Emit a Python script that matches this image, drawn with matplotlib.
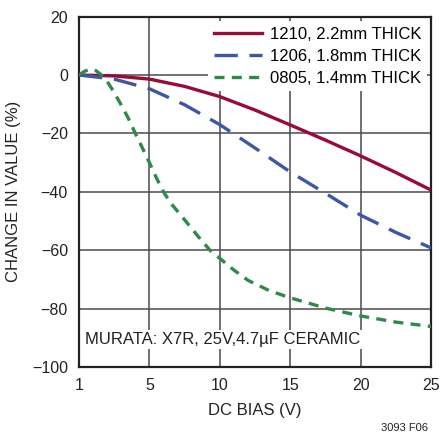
import matplotlib
matplotlib.use("Agg")
import matplotlib.pyplot as plt

plt.rcParams['font.family'] = ['Liberation Sans Narrow', 'Liberation Sans', 'DejaVu Sans']
plt.rcParams['axes.unicode_minus'] = True

# x positions on the axis (the axis labels start at "1")
x_ticks = [0, 5, 10, 15, 20, 25]
x_tick_labels = ['1', '5', '10', '15', '20', '25']
y_ticks = [20, 0, -20, -40, -60, -80, -100]

# 1210, 2.2mm
x_1210 = [0, 2.5, 5, 7.5, 10, 12.5, 15, 17.5, 20, 22.5, 25]
y_1210 = [0, -0.3, -1.4, -3.9, -7.4, -12.0, -17.1, -22.3, -27.7, -33.4, -39.4]

# 1206, 1.8mm
x_1206 = [0, 2.5, 5, 7.5, 10, 12.5, 15, 17.5, 20, 22.5, 25]
y_1206 = [0, -1.4, -4.7, -10.2, -17.0, -25.0, -33.2, -40.5, -48.0, -53.9, -59.2]

# 0805, 1.4mm
x_0805 = [0, 0.4, 0.8, 1.2, 1.6, 2.0, 2.5, 3.0, 3.5, 4.0, 4.5, 5.0, 5.5, 6.0, 6.5,
          7.4, 8.5, 9.3, 10, 11, 12, 13.5, 15, 17.5, 20, 22.5, 25]
y_0805 = [0, 1.3, 2.0, 1.5, 0.0, -2.2, -6.0, -10.3, -14.8, -20.0, -25.0, -30.0, -35.3,
          -40.0, -43.8, -49.0, -55.5, -60.0, -62.8, -66.8, -70.3, -73.8, -76.3, -79.8,
          -82.5, -84.6, -86.1]

fig = plt.figure(figsize=(4.44, 4.37), dpi=100)
ax = fig.add_axes([0.178, 0.160, 0.793, 0.802])

ax.plot(x_1210, y_1210, color='#9b0a35', lw=2.4, label='1210, 2.2mm THICK', zorder=4)
ax.plot(x_1206, y_1206, color='#3a57a8', lw=2.4, dashes=(7, 3.5), label='1206, 1.8mm THICK', zorder=4)
ax.plot(x_0805, y_0805, color='#2e8a47', lw=2.4, dashes=(3, 2.2), label='0805, 1.4mm THICK', zorder=4)

ax.set_xlim(0, 25)
ax.set_ylim(-100, 20)
ax.set_xticks(x_ticks)
ax.set_xticklabels(x_tick_labels)
ax.set_yticks(y_ticks)
ax.tick_params(length=0, labelsize=11.5, pad=8, colors='#222222')
ax.grid(True, color='#4a4a4a', lw=1.1)
ax.set_axisbelow(True)
for s in ax.spines.values():
    s.set_linewidth(1.6)
    s.set_color('#222222')

ax.set_xlabel('DC BIAS (V)', fontsize=12, labelpad=7, color='#222222')
ax.set_ylabel('CHANGE IN VALUE (%)', fontsize=12, labelpad=8, color='#222222')

leg = ax.legend(loc='upper right', fontsize=12, frameon=True, handlelength=2.9,
                borderaxespad=0.25, labelspacing=0.42, handletextpad=0.45,
                borderpad=0.35, fancybox=False)
leg.get_frame().set_edgecolor('none')
leg.get_frame().set_facecolor('white')
leg.get_frame().set_alpha(1)
leg.set_zorder(3)

ax.text(0.4, -90.5, 'MURATA: X7R, 25V,4.7µF CERAMIC', fontsize=12, color='#222222',
        va='center', ha='left', zorder=3,
        bbox=dict(facecolor='white', edgecolor='none', pad=1.5))

fig.text(0.965, 0.01, '3093 F06', fontsize=8, ha='right', va='bottom', color='#222222')

fig.savefig('out.png', dpi=100)
